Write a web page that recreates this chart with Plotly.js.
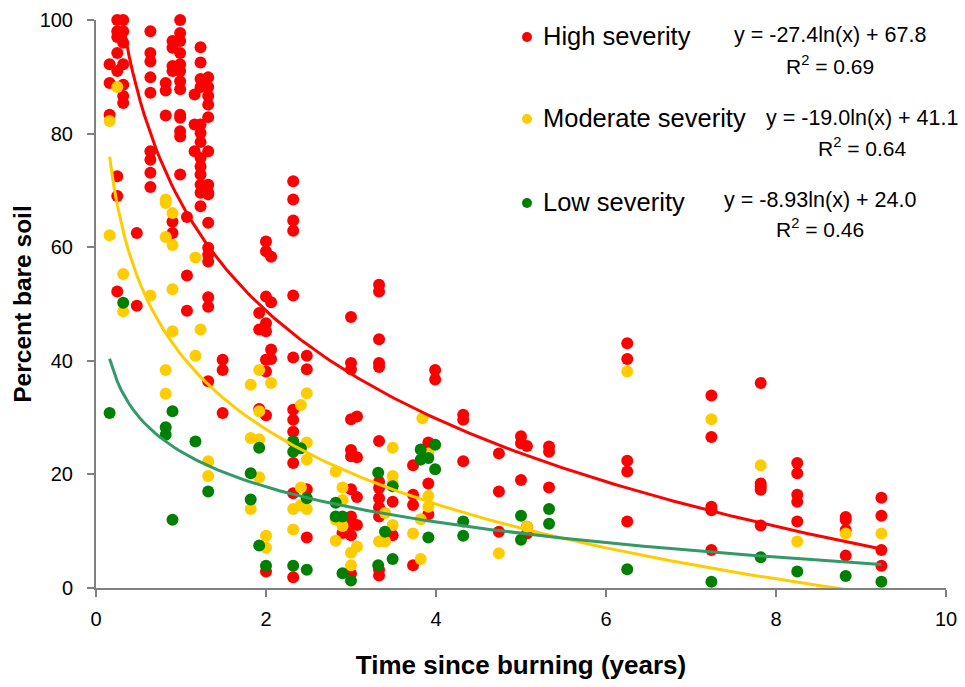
<!DOCTYPE html>
<html>
<head>
<meta charset="utf-8">
<script src="https://cdn.plot.ly/plotly-3.0.1.min.js"></script>
<style>html,body{margin:0;padding:0;background:#fff;}#chart{width:965px;height:687px;}</style>
</head>
<body>
<div id="chart"></div>
<script>
// ---- Data ----
const highX = [0.16,0.16,0.16,
  0.25,0.25,0.25,0.25,0.25,0.25,0.25,0.25,
  0.32,0.32,0.32,0.32,0.32,0.32,0.32,
  0.48,0.48,
  0.64,0.64,0.64,0.64,0.64,0.64,0.64,0.64,0.64,
  0.82,0.82,0.82,
  0.9,0.9,0.9,0.9,0.9,0.9,
  0.99,0.99,0.99,0.99,0.99,0.99,0.99,0.99,0.99,0.99,0.99,0.99,0.99,
  1.07,1.07,1.07,
  1.16,1.16,1.16,
  1.23,1.23,1.23,1.23,1.23,1.23,1.23,1.23,1.23,1.23,1.23,1.23,1.23,
  1.32,1.32,1.32,1.32,1.32,1.32,1.32,1.32,1.32,1.32,1.32,1.32,1.32,1.32,1.32,1.32,
  1.49,1.49,1.49,
  1.92,1.92,1.92,
  2.0,2.0,2.0,2.0,2.0,2.0,2.0,2.0,2.0,
  2.06,2.06,2.06,2.06,
  2.32,2.32,2.32,2.32,2.32,2.32,2.32,2.32,2.32,2.32,2.32,2.32,2.32,
  2.48,2.48,2.48,2.48,
  3.0,3.0,3.0,3.0,3.0,3.0,3.0,3.0,3.0,3.0,3.0,
  3.07,3.07,3.07,3.07,
  2.9,
  3.33,3.33,3.33,3.33,3.33,3.33,3.33,3.33,3.33,3.33,3.33,3.33,3.33,
  3.49,3.49,
  3.73,3.73,3.73,3.73,
  3.91,3.91,3.91,
  3.99,3.99,
  4.32,4.32,4.32,
  4.74,4.74,4.74,
  5.0,5.0,5.0,
  5.07,5.07,5.07,
  5.33,5.33,5.33,
  6.25,6.25,6.25,6.25,6.25,
  7.24,7.24,7.24,7.24,7.24,
  7.82,7.82,7.82,7.82,7.82,
  8.25,8.25,8.25,8.25,8.25,
  8.82,8.82,8.82,8.82,
  9.24,9.24,9.24,9.24];
const highY = [92.2,88.9,83.3,
  100,98,97,94.2,91,72.5,69,52.2,
  100,98,96,92.2,88.6,86.6,85.4,
  62.5,49.7,
  98,94.2,92.7,89.9,87.2,76.9,75.4,73.1,70.6,
  88.9,87.6,83.2,
  96.3,95.1,91.9,91,64.5,62.5,
  100,97.7,96.3,94.2,92.2,91,89.2,87.8,83.3,82.8,80.4,79.5,72.8,
  65.3,55,48.8,
  86.9,81.6,76.9,
  95.2,92.5,89.6,88.2,81.6,80.1,78.5,75.7,74.2,72.8,71,69.6,67.2,
  89.9,88.2,86.6,85.1,82.9,76.9,71,69.6,69.3,64.3,59.9,58.7,57.5,51.2,49.5,36.4,
  40.2,38.4,30.8,
  48.4,45.5,31.5,
  61,59.3,51.3,46.6,45.2,40.2,38.1,30.4,2.9,
  58.3,50.3,42,40.3,
  71.6,68.4,64.7,62.9,51.5,40.6,31.4,29.6,27.5,25.8,22,16.7,1.9,
  40.9,38.5,17.4,8.9,
  47.7,39.6,38.5,29.7,24.3,23.2,17.4,12.6,11.1,9.3,2.5,
  30.2,23,16,11.1,
  9.7,
  53.4,52.2,43.8,39.6,38.9,25.9,18.7,17.6,15.8,14.2,12.6,3.2,2.2,
  15.2,9.3,
  21.6,16.4,14.6,4,
  25.6,18.4,13,
  38.4,36.7,
  30.5,29.6,22.3,
  23.7,17,9.9,
  26.7,25.5,19,
  25,10.8,9.6,
  24.9,24,17.7,
  43.1,40.3,22.4,20.5,11.7,
  33.9,26.6,14.3,13.7,6.7,
  36.1,18.4,17.9,17.3,11,
  22,20.2,16.4,15.2,11.7,
  12.5,12,10.2,5.7,
  15.9,12.7,6.7,3.9];

const modX = [0.16,0.16, 0.25, 0.32,0.32, 0.64,
  0.82,0.82,0.82,0.82,0.82,
  0.9,0.9,0.9,0.9,
  1.17,1.17, 1.23, 1.32,1.32,
  1.82,1.82,1.82,
  1.92,1.92,1.92,1.92,
  2.0,2.0, 2.06,
  2.41,2.41,2.41,
  2.48,2.48,2.48,2.48,
  2.32,2.32,
  2.82,2.82,2.82,
  2.9,2.9,2.9,
  3.0,3.0, 3.07,
  3.4,3.4, 3.33,
  3.49,3.49,3.49,3.49,
  3.82,3.82,3.84,
  3.91,3.91,3.91, 3.73,
  4.74, 5.07, 6.25, 7.24, 7.82, 8.25, 8.82, 9.24];
const modY = [82.2,62.1, 88.2, 55.3,48.7, 51.5,
  68.4,67.8,61.8,38.4,34.2,
  66,60.4,52.6,45.2,
  58.2,40.9, 45.5, 22.3,19.7,
  35.8,26.4,13.9,
  38.4,31.1,26.2,19.5,
  9.2,7.1, 36.1,
  32.2,17.7,14.6,
  34.3,25.6,22.6,13.9,
  13.9,10.3,
  20.5,12,8.3,
  17.7,15.5,10.9,
  6.2,4, 7.3,
  13.2,8.2, 8.2,
  24.7,19.7,18.4,11.1,
  12.1,5.1,29.9,
  23.7,16.2,14.3, 9.6,
  6.1, 10.8, 38.1, 29.7, 21.6, 8.2, 9.6, 9.6];

const lowX = [0.16, 0.32, 0.82,0.82, 0.9,0.9, 1.17, 1.32,
  1.82,1.82, 1.92,1.92, 2.0,
  2.32,2.32,2.32, 2.41, 2.48,2.48,
  2.82,2.82, 2.9,2.9, 3.0,
  3.32,3.32, 3.4, 3.49,3.49,
  3.82,3.82, 3.91,3.91, 3.99,3.99,
  4.32,4.32, 5.0,5.0, 5.33,5.33,
  6.25, 7.24, 7.82, 8.25, 8.82, 9.24];
const lowY = [30.8, 50.2, 28.3,27, 31.1,12, 25.8, 17,
  20.2,15.6, 24.7,7.5, 3.9,
  25.8,24,3.9, 24.6, 15.8,3.2,
  15,12.6, 12.6,2.6, 1.3,
  20.3,4, 9.9, 17.9,5.1,
  24.4,22.6, 22.9,8.9, 25.2,20.9,
  11.7,9.2, 12.7,8.5, 13.9,11.3,
  3.3, 1.1, 5.4, 2.9, 2.1, 1.1];

// Logarithmic trendline coefficients shown on the chart: y = a*ln(x) + b
const seriesNames = ["High severity","Moderate severity","Low severity"];
const trendA = [-27.4, -19.0, -8.93];
const trendB = [67.8, 41.1, 24.0];
const trendLabels = ["y = -27.4ln(x) + 67.8","y = -19.0ln(x) + 41.1","y = -8.93ln(x) + 24.0"];
const r2Labels = ["R<sup>2</sup> = 0.69","R<sup>2</sup> = 0.64","R<sup>2</sup> = 0.46"];
const xTicks = [0,2,4,6,8,10];
const yTicks = [0,20,40,60,80,100];

// ---- Styling ----
const markerColors = ["#FF0000","#FFCC00","#008000"];
const lineColors = ["#FF0000","#FFCC00","#339966"];
const FONT = "Liberation Sans, Arial, sans-serif";

function trend(xs, a, b) {
  const lo = Math.min.apply(null, xs), hi = Math.max.apply(null, xs);
  const tx = [], ty = [];
  const n = 200;
  for (let i = 0; i <= n; i++) {
    const x = lo + (hi - lo) * i / n;
    tx.push(x); ty.push(a * Math.log(x) + b);
  }
  return {x: tx, y: ty};
}

const allX = [highX, modX, lowX], allY = [highY, modY, lowY];
const traces = [];
for (let i = 0; i < 3; i++) {
  traces.push({
    type: "scatter", mode: "markers", name: seriesNames[i],
    x: allX[i], y: allY[i], cliponaxis: false,
    marker: {color: markerColors[i], size: 12, line: {width: 0}},
    showlegend: false, hoverinfo: "x+y"
  });
}
for (let i = 0; i < 3; i++) {
  const t = trend(allX[i], trendA[i], trendB[i]);
  traces.push({
    type: "scatter", mode: "lines", x: t.x, y: t.y,
    line: {color: lineColors[i], width: 3}, showlegend: false, hoverinfo: "skip"
  });
}

// pixel -> paper helpers for the plot area (l=96, r=946, t=20, b=588)
const L = 96, R = 946, T = 20, B = 588;
const px = v => (v - L) / (R - L);
const py = v => (B - v) / (B - T);

const legendRows = [36, 118, 202];
const eqCenter = [830, 862, 820];
const eqY = [35, 118, 200];
const r2Y = [65, 147, 228];

const annotations = [], shapes = [];
for (let i = 0; i < 3; i++) {
  annotations.push({xref:"paper", yref:"paper", x:px(541), y:py(legendRows[i]), xanchor:"left", yanchor:"middle",
    text: seriesNames[i], showarrow:false, font:{family:FONT, size:25.5, color:"#000"}});
  annotations.push({xref:"paper", yref:"paper", x:px(eqCenter[i]), y:py(eqY[i]), xanchor:"center", yanchor:"middle",
    text: trendLabels[i], showarrow:false, font:{family:FONT, size:21.5, color:"#000"}});
  annotations.push({xref:"paper", yref:"paper", x:px(eqCenter[i]), y:py(r2Y[i]), xanchor:"center", yanchor:"middle",
    text: r2Labels[i], showarrow:false, font:{family:FONT, size:21, color:"#000"}});
  shapes.push({type:"circle", xref:"paper", yref:"paper", xsizemode:"pixel", ysizemode:"pixel",
    xanchor:px(527), yanchor:py(legendRows[i] + 1), x0:-5, x1:5, y0:-5, y1:5,
    fillcolor:markerColors[i], line:{width:0}});
}

const layout = {
  width: 965, height: 687,
  margin: {l: L, r: 965 - R, t: T, b: 687 - B, pad: 0},
  paper_bgcolor: "#fff", plot_bgcolor: "#fff",
  font: {family: FONT, size: 20, color: "#000"},
  showlegend: false,
  xaxis: {
    range: [0, 10], tickvals: xTicks, ticktext: xTicks.map(String),
    showgrid: false, zeroline: false, showline: true, linecolor: "#808080", linewidth: 2,
    ticks: "outside", ticklen: 7, tickwidth: 2, tickcolor: "#808080",
    tickfont: {family: FONT, size: 20, color: "#000"}, ticklabelstandoff: 5,
    title: {text: "<b>Time since burning (years)</b>", font: {family: FONT, size: 26, color: "#000"}, standoff: 27}
  },
  yaxis: {
    range: [0, 100], tickvals: yTicks, ticktext: yTicks.map(String),
    showgrid: false, zeroline: false, showline: true, linecolor: "#808080", linewidth: 2,
    ticks: "outside", ticklen: 7, tickwidth: 2, tickcolor: "#808080",
    tickfont: {family: FONT, size: 20, color: "#000"}, ticklabelstandoff: 10,
    title: {text: "<b>Percent bare soil</b>", font: {family: FONT, size: 24.5, color: "#000"}, standoff: 1}
  },
  annotations: annotations,
  shapes: shapes
};

Plotly.newPlot("chart", traces, layout, {displayModeBar: false, staticPlot: true});
</script>
</body>
</html>
